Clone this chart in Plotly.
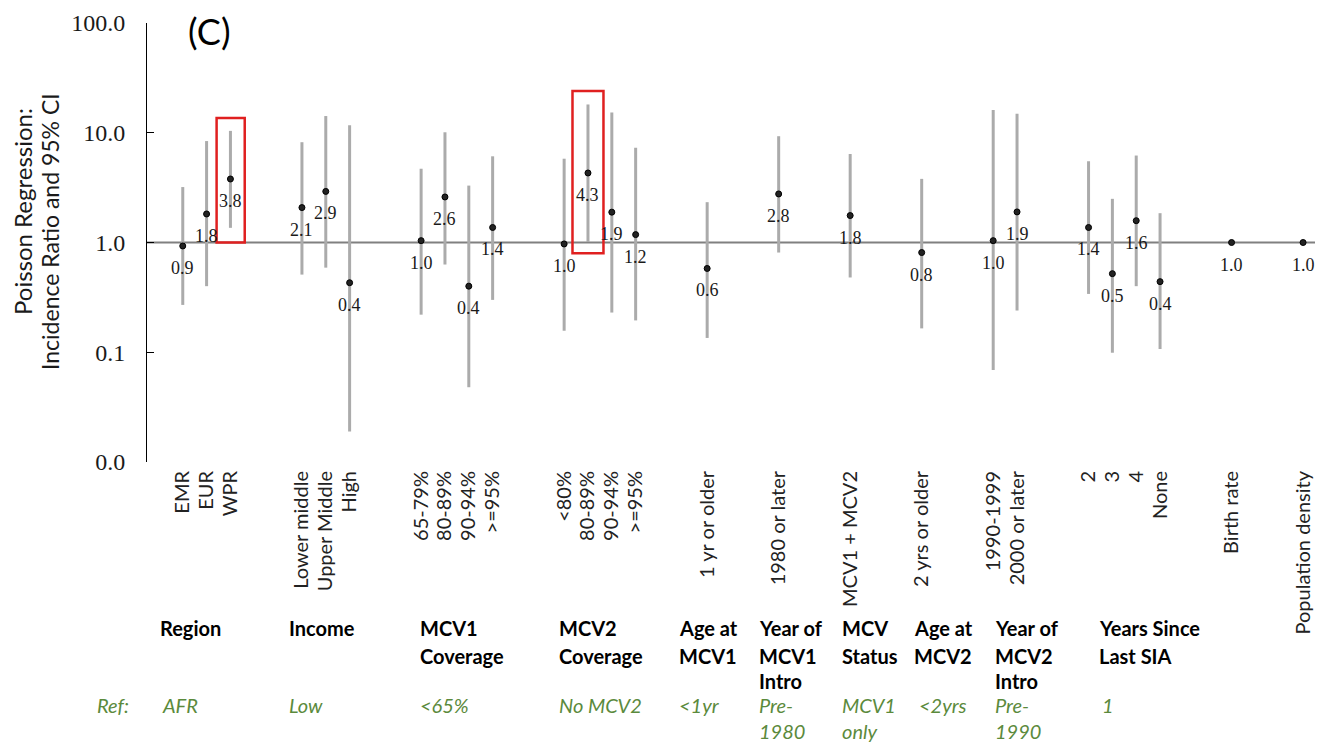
import math
import plotly.graph_objects as go

# ---------------- data ----------------
group_items = [
    ["EMR", "EUR", "WPR"],
    ["Lower middle", "Upper Middle", "High"],
    ["65-79%", "80-89%", "90-94%", ">=95%"],
    ["<80%", "80-89%", "90-94%", ">=95%"],
    ["1 yr or older"],
    ["1980 or later"],
    ["MCV1 + MCV2"],
    ["2 yrs or older"],
    ["1990-1999", "2000 or later"],
    ["2", "3", "4", "None"],
    ["Birth rate"],
    ["Population density"],
]
group_titles = [
    ["Region"], ["Income"], ["MCV1", "Coverage"], ["MCV2", "Coverage"],
    ["Age at", "MCV1"], ["Year of", "MCV1", "Intro"], ["MCV", "Status"],
    ["Age at", "MCV2"], ["Year of", "MCV2", "Intro"], ["Years Since", "Last SIA"],
]
ref_labels = [
    ["AFR"], ["Low"], ["<65%"], ["No MCV2"], ["<1yr"], ["Pre-", "1980"],
    ["MCV1", "only"], ["<2yrs"], ["Pre-", "1990"], ["1"],
]
irr = [0.93, 1.82, 3.79,
       2.08, 2.92, 0.43,
       1.04, 2.60, 0.40, 1.37,
       0.97, 4.30, 1.89, 1.18,
       0.58, 2.77, 1.76, 0.81,
       1.04, 1.90,
       1.37, 0.52, 1.58, 0.44,
       1.00, 1.00]
ci_low = [0.27, 0.40, 1.36,
          0.51, 0.59, 0.019,
          0.22, 0.63, 0.048, 0.30,
          0.157, 1.01, 0.23, 0.195,
          0.135, 0.81, 0.48, 0.165,
          0.069, 0.24,
          0.34, 0.099, 0.40, 0.107,
          0.99, 0.99]
ci_high = [3.2, 8.4, 10.4,
           8.2, 14.2, 11.7,
           4.7, 10.1, 3.3, 6.1,
           5.8, 18.1, 15.3, 7.3,
           2.33, 9.3, 6.4, 3.8,
           16.1, 14.9,
           5.5, 2.5, 6.2, 1.85,
           1.01, 1.01]
y_tick_vals = [0.01, 0.1, 1, 10, 100]
y_tick_text = ["0.0", "0.1", "1.0", "10.0", "100.0"]

# ---------------- layout helpers ----------------
GAP = 2
xs, labels = [], []
pos = 0
for items in group_items:
    for it in items:
        xs.append(pos)
        labels.append(it)
        pos += 1
    pos += GAP

W, H = 1325, 743
PL, PR, PT, PB = 147, 1315, 23, 462  # plot area in pixels
L, T, R, B = PL, PT, W - PR, H - PB
pw, ph = PR - PL, PB - PT


def px_x(p):
    return (p - PL) / pw


def px_y(p):
    return (PB - p) / ph


fig = go.Figure()
fig.add_trace(go.Scatter(
    x=xs, y=irr, mode="markers",
    marker=dict(size=6, color="#222222", line=dict(color="black", width=1)),
    error_y=dict(type="data", symmetric=False,
                 array=[h - v for h, v in zip(ci_high, irr)],
                 arrayminus=[v - l for v, l in zip(irr, ci_low)],
                 color="#ababab", thickness=3, width=0),
    hoverinfo="x+y", showlegend=False,
))

annotations = []
for x, v in zip(xs, irr):
    annotations.append(dict(x=x, y=math.log10(v), xref="x", yref="y",
                            text=f"{v:.1f}", showarrow=False, yshift=-22,
                            font=dict(family="Liberation Serif", size=18, color="#1a1a1a")))

title_left = [158, 287, 418, 557, 677, 757, 840, 912, 993, 1097]
line_y = [628, 656, 681]
for lines, lx in zip(group_titles, title_left):
    for i, t in enumerate(lines):
        annotations.append(dict(x=px_x(lx), y=px_y(line_y[i]), xref="paper", yref="paper",
                                xanchor="left", yanchor="middle", text=f"<b>{t}</b>",
                                showarrow=False,
                                font=dict(family="Lato", size=20, color="black")))

ref_left = [160, 287, 418, 557, 677, 757, 840, 917, 993, 1100]
ref_y = [705, 731]
green = "#5b8a3c"
annotations.append(dict(x=px_x(95), y=px_y(ref_y[0]), xref="paper", yref="paper",
                        xanchor="left", yanchor="middle", text="<i>Ref:</i>", showarrow=False,
                        font=dict(family="Lato", size=20, color=green)))
for lines, lx in zip(ref_labels, ref_left):
    for i, t in enumerate(lines):
        annotations.append(dict(x=px_x(lx), y=px_y(ref_y[i]), xref="paper", yref="paper",
                                xanchor="left", yanchor="middle", text=f"<i>{t}</i>",
                                showarrow=False,
                                font=dict(family="Lato", size=20, color=green)))

annotations.append(dict(x=px_x(22), y=px_y(212), xref="paper", yref="paper",
                        xanchor="center", yanchor="middle", textangle=-90,
                        text="Poisson Regression:", showarrow=False,
                        font=dict(family="Lato", size=24, color="#1a1a1a")))
annotations.append(dict(x=px_x(50), y=px_y(232), xref="paper", yref="paper",
                        xanchor="center", yanchor="middle", textangle=-90,
                        text="Incidence Ratio and 95% CI", showarrow=False,
                        font=dict(family="Lato", size=23, color="#1a1a1a")))
annotations.append(dict(x=px_x(186), y=px_y(31), xref="paper", yref="paper",
                        xanchor="left", yanchor="middle", text="(C)", showarrow=False,
                        font=dict(family="Lato", size=36, color="black")))

wpr = labels.index("WPR")
mcv2_hi = xs[labels.index("80-89%", 10)]
shapes = [
    dict(type="line", xref="paper", yref="y", x0=0, x1=1, y0=1, y1=1,
         line=dict(color="#808080", width=2), layer="below"),
    dict(type="rect", xref="x", yref="y", x0=xs[wpr] - 0.58, x1=xs[wpr] + 0.6,
         y0=1.0, y1=13.6, line=dict(color="#e02020", width=2.5)),
    dict(type="rect", xref="x", yref="y", x0=mcv2_hi - 0.65, x1=mcv2_hi + 0.65,
         y0=0.80, y1=24.0, line=dict(color="#e02020", width=2.5)),
]

fig.update_layout(
    width=W, height=H,
    margin=dict(l=L, r=R, t=T, b=B, pad=0),
    paper_bgcolor="white", plot_bgcolor="white",
    annotations=annotations, shapes=shapes,
    xaxis=dict(range=[-1.5, pos - GAP - 0.5], tickmode="array", tickvals=xs, ticktext=labels,
               tickangle=-90, showline=False, ticks="", showgrid=False, zeroline=False,
               ticklabelstandoff=4,
               tickfont=dict(family="Lato", size=20, color="#222222")),
    yaxis=dict(type="log", range=[-2, 2], tickmode="array", tickvals=y_tick_vals,
               ticktext=y_tick_text, ticks="inside", ticklen=7, tickcolor="black",
               showline=True, linecolor="black", linewidth=1, showgrid=False,
               zeroline=False, ticklabelstandoff=16,
               tickfont=dict(family="Liberation Serif", size=24, color="#1a1a1a")),
)

fig.write_html("out.html", config={"displayModeBar": False},
               post_script="document.body.style.margin='0';document.body.style.overflow='hidden';")
